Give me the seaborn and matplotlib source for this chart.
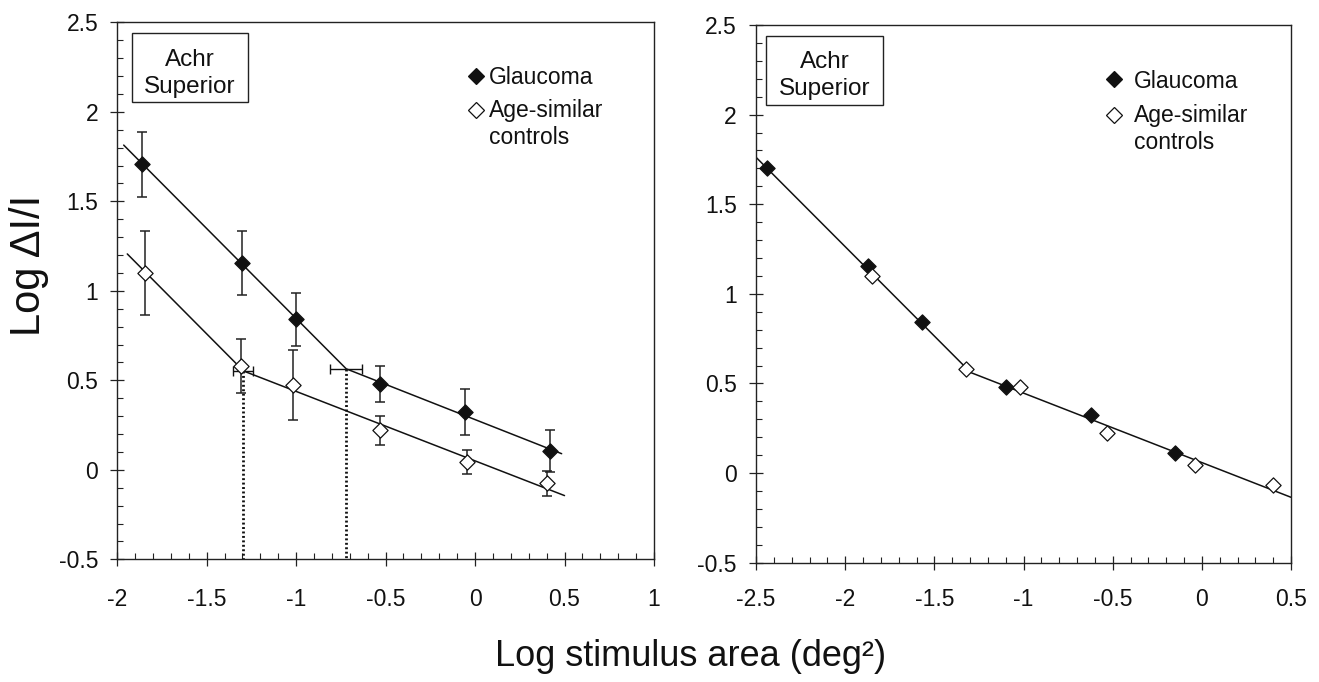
import numpy as np
import pandas as pd
import matplotlib
matplotlib.use("Agg")
import matplotlib.pyplot as plt
from matplotlib.patches import Rectangle
from matplotlib.ticker import MultipleLocator, FixedLocator, FixedFormatter
import seaborn as sns

# ---------------- data ----------------
left_glaucoma_x = [-1.86, -1.30, -1.00, -0.53, -0.054, 0.42]
left_glaucoma_y = [1.706, 1.156, 0.842, 0.478, 0.324, 0.106]
left_glaucoma_err = [0.18, 0.18, 0.148, 0.10, 0.13, 0.118]

left_control_x = [-1.844, -1.308, -1.018, -0.53, -0.044, 0.40]
left_control_y = [1.10, 0.58, 0.476, 0.22, 0.044, -0.076]
left_control_err = [0.233, 0.15, 0.195, 0.08, 0.067, 0.07]

# two-limbed fits (start, breakpoint, end)
left_glaucoma_fit_x = [-1.964, -0.72, 0.484]
left_glaucoma_fit_y = [1.814, 0.564, 0.09]
left_control_fit_x = [-1.944, -1.294, 0.50]
left_control_fit_y = [1.206, 0.552, -0.144]

# breakpoints with horizontal error
break_x = [-1.296, -0.72]
break_y = [0.552, 0.564]
break_xerr = [0.056, 0.09]

right_glaucoma_x = [-2.44, -1.87, -1.57, -1.10, -0.62, -0.15]
right_glaucoma_y = [1.703, 1.158, 0.842, 0.481, 0.324, 0.110]
right_control_x = [-1.85, -1.32, -1.02, -0.53, -0.04, 0.40]
right_control_y = [1.10, 0.582, 0.478, 0.221, 0.047, -0.068]
right_fit_x = [-2.5, -1.296, 0.5]
right_fit_y = [1.762, 0.561, -0.135]

left_xticks = [-2, -1.5, -1, -0.5, 0, 0.5, 1]
left_xticklabels = ["-2", "-1.5", "-1", "-0.5", "0", "0.5", "1"]
right_xticks = [-2.5, -2, -1.5, -1, -0.5, 0, 0.5]
right_xticklabels = ["-2.5", "-2", "-1.5", "-1", "-0.5", "0", "0.5"]
yticks = [-0.5, 0, 0.5, 1, 1.5, 2, 2.5]
yticklabels = ["-0.5", "0", "0.5", "1", "1.5", "2", "2.5"]

series_labels = ["Glaucoma", "Age-similar\ncontrols"]
panel_label = "Achr\nSuperior"
ylabel = "Log \u0394I/I"
xlabel = "Log stimulus area (deg\u00b2)"

# ---------------- style ----------------
sns.set_theme(style="ticks")
plt.rcParams["font.family"] = ["Liberation Sans", "DejaVu Sans"]
plt.rcParams["axes.unicode_minus"] = False

INK = "#111111"
DPI = 100
fig = plt.figure(figsize=(13.19, 6.82), dpi=DPI)
axL = fig.add_axes([0.0889, 0.1799, 0.4069, 0.7874])
axR = fig.add_axes([0.5732, 0.1749, 0.4056, 0.7884])


def style_axis(ax, xlim, xticks, xticklabels, xpad, ypad):
    ax.set_xlim(*xlim)
    ax.set_ylim(-0.5, 2.5)
    ax.xaxis.set_major_locator(FixedLocator(xticks))
    ax.xaxis.set_major_formatter(FixedFormatter(xticklabels))
    ax.yaxis.set_major_locator(FixedLocator(yticks))
    ax.yaxis.set_major_formatter(FixedFormatter(yticklabels))
    ax.xaxis.set_minor_locator(MultipleLocator(0.1))
    ax.yaxis.set_minor_locator(MultipleLocator(0.1))
    for s in ax.spines.values():
        s.set_visible(True)
        s.set_linewidth(1.0)
        s.set_color("#222222")
    ax.tick_params(which="major", direction="inout", length=9.9, width=0.9,
                   color="#222222", labelsize=16.5, labelcolor=INK,
                   top=False, right=False)
    ax.tick_params(which="minor", direction="in", length=4.3, width=0.8,
                   color="#222222", top=False, right=False)
    ax.tick_params(axis="x", which="major", pad=xpad)
    ax.tick_params(axis="y", which="major", pad=ypad)
    ax.grid(False)
    ax.set_facecolor("white")


def scatter_series(ax, xs, ys, filled, size=60):
    df = pd.DataFrame({"x": xs, "y": ys})
    sns.scatterplot(data=df, x="x", y="y", marker="D", s=size,
                    color=INK if filled else "white",
                    edgecolor=INK, linewidth=0.9, ax=ax, zorder=5,
                    legend=False)


def fit_line(ax, xs, ys):
    df = pd.DataFrame({"x": xs, "y": ys})
    sns.lineplot(data=df, x="x", y="y", sort=False, estimator=None,
                 color=INK, linewidth=1.1, ax=ax, zorder=2, legend=False)


def panel_box(ax, x0, x1, y0, y1, tx, ty):
    ax.add_patch(Rectangle((x0, y0), x1 - x0, y1 - y0, transform=ax.transAxes,
                           fill=True, facecolor="white", edgecolor="#222222",
                           linewidth=1.0, zorder=6))
    # ty = baseline of the last line
    ax.text(tx, ty, panel_label, transform=ax.transAxes, ha="center",
            va="baseline", multialignment="center", fontsize=17.5,
            color=INK, linespacing=1.27, zorder=7)


def legend_block(ax, mx, tx, y_marks, y_bases):
    for filled, ym, yb, lab in zip([True, False], y_marks, y_bases, series_labels):
        ax.plot([mx], [ym], marker="D", markersize=8,
                markerfacecolor=INK if filled else "white",
                markeredgecolor=INK, markeredgewidth=0.9, linestyle="none",
                transform=ax.transAxes, zorder=7, clip_on=False)
        # yb = baseline of the last line of the label
        ax.text(tx, yb, lab, transform=ax.transAxes, ha="left", va="baseline",
                fontsize=16.5, color=INK, linespacing=1.22, zorder=7)


# ---------------- left panel ----------------
style_axis(axL, (-2, 1), left_xticks, left_xticklabels, xpad=15.5, ypad=8.8)
fit_line(axL, left_glaucoma_fit_x, left_glaucoma_fit_y)
fit_line(axL, left_control_fit_x, left_control_fit_y)
for bx, by in zip(break_x, break_y):
    axL.plot([bx, bx], [by, -0.5], color=INK, linewidth=2.0,
             linestyle=(0, (0.7, 0.9)), zorder=2)
axL.errorbar(break_x, break_y, xerr=break_xerr, fmt="none", ecolor=INK,
             elinewidth=1.0, capsize=3.5, capthick=1.0, zorder=3)
axL.errorbar(left_glaucoma_x, left_glaucoma_y, yerr=left_glaucoma_err,
             fmt="none", ecolor="#222222", elinewidth=1.1, capsize=3.5,
             capthick=1.1, zorder=3)
axL.errorbar(left_control_x, left_control_y, yerr=left_control_err,
             fmt="none", ecolor="#222222", elinewidth=1.1, capsize=3.5,
             capthick=1.1, zorder=3)
scatter_series(axL, left_glaucoma_x, left_glaucoma_y, True)
scatter_series(axL, left_control_x, left_control_y, False)
panel_box(axL, 0.0268, 0.244, 0.852, 0.9795, 0.135, 0.8689)
legend_block(axL, 0.668, 0.693, [0.900, 0.8367], [0.8851, 0.7734])

# ---------------- right panel ----------------
style_axis(axR, (-2.5, 0.5), right_xticks, right_xticklabels, xpad=13.5, ypad=8.8)
fit_line(axR, right_fit_x, right_fit_y)
scatter_series(axR, right_glaucoma_x, right_glaucoma_y, True)
scatter_series(axR, right_control_x, right_control_y, False)
panel_box(axR, 0.0187, 0.237, 0.851, 0.980, 0.128, 0.8698)
legend_block(axR, 0.670, 0.7065, [0.899, 0.8326], [0.8838, 0.7686])

for ax in (axL, axR):
    ax.set_xlabel("")
    ax.set_ylabel("")

# ---------------- shared labels ----------------
fig.text(28.6 / 1319, 1 - 265 / 682, ylabel, rotation=90, ha="center",
         va="center", fontsize=30, color=INK)
fig.text(691 / 1319, 1 - 657 / 682, xlabel, ha="center", va="center",
         fontsize=26, color=INK)

fig.savefig("out.png", dpi=DPI, facecolor="white")
